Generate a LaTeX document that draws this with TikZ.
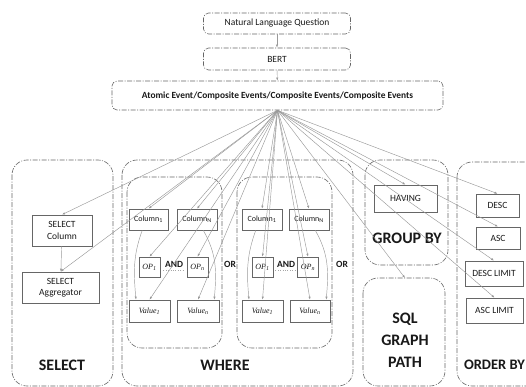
\documentclass[tikz,border=0pt]{standalone}
\usepackage{fontspec}
\setmainfont{Carlito}
\newfontfamily\tnr{Liberation Serif}
\usetikzlibrary{arrows.meta,calc}
\begin{document}
\begin{tikzpicture}[x=1pt,y=-1pt,
 panel/.style={draw=black!60, line width=0.6pt, dash pattern=on 5pt off 1.5pt on 1pt off 1.5pt, rounded corners=15pt},
 topbox/.style={draw=black!60, line width=0.6pt, dash pattern=on 5pt off 1.5pt on 1pt off 1.5pt, rounded corners=5pt, inner sep=0pt, text=black!90},
 box/.style={draw=black!60, line width=0.7pt, inner sep=0pt, align=center, text=black!90, font=\fontsize{9.5}{11.5}\selectfont},
 small/.style={box, font=\fontsize{8}{9}\selectfont},
 big/.style={font=\bfseries\fontsize{16}{21}\selectfont, text=black!90, align=center},
 conn/.style={draw=black!40, line width=0.45pt, -{Latex[length=3pt,width=2.2pt]}},
 lbl/.style={font=\bfseries\fontsize{9.5}{11}\selectfont, text=black!90},
]
\clip (0,0) rectangle (526,387);

% top chain
\node[topbox, minimum width=147pt, minimum height=21pt, font=\fontsize{9.5}{11}\selectfont] (nlq) at (277,23.5) {Natural Language Question};
\node[topbox, minimum width=147pt, minimum height=22pt, font=\fontsize{9.5}{11}\selectfont] (bert) at (277,59) {BERT};
\node[topbox, minimum width=331pt, minimum height=29pt, font=\bfseries\fontsize{9.4}{11}\selectfont] (ae) at (277.5,95.5) {Atomic Event/Composite Events/Composite Events/Composite Events};
\draw[conn] (nlq) -- (bert);
\draw[conn] (bert) -- (ae);

% panels
\draw[panel] (12,160) rectangle (113,386);
\draw[panel] (122,160) rectangle (353,386);
\draw[panel] (127,177) rectangle (222,348);
\draw[panel] (237,177) rectangle (332,348);
\draw[panel] (365,160) rectangle (448,265);
\draw[panel] (363,278) rectangle (445,386);
\draw[panel] (457,162) rectangle (590,386);

% SELECT
\node[box, minimum width=60pt, minimum height=31pt] (selcol) at (62,230.5) {SELECT\\Column};
\node[box, minimum width=77pt, minimum height=31pt] (selagg) at (60.5,287.5) {SELECT\\Aggregator};
\node[big] (lsel) at (62,365) {SELECT};

% WHERE group 1
\node[small, minimum width=39pt, minimum height=21pt] (c11) at (148.5,219.5) {Column\textsubscript{1}};
\node[small, minimum width=40pt, minimum height=21pt] (c1n) at (197,219.5) {Column\textsubscript{N}};
\node[small, minimum width=21pt, minimum height=20pt] (op11) at (149.5,267) {\tnr\itshape OP\textsubscript{1}};
\node[small, minimum width=21pt, minimum height=20pt] (op1n) at (197.5,267) {\tnr\itshape OP\textsubscript{n}};
\node[small, minimum width=41pt, minimum height=22pt] (v11) at (149.5,311) {\tnr\itshape Value\textsubscript{1}};
\node[small, minimum width=42pt, minimum height=22pt] (v1n) at (198,311) {\tnr\itshape Value\textsubscript{n}};
\node[lbl] (and1) at (174,264) {AND};
\draw[black!35, line width=0.4pt, dotted] ($(and1.south west)+(2,0)$) -- ($(and1.south east)+(-2,0)$);

% WHERE group 2
\node[small, minimum width=40pt, minimum height=21pt] (c21) at (262,219.5) {Column\textsubscript{1}};
\node[small, minimum width=40pt, minimum height=21pt] (c2n) at (309,219.5) {Column\textsubscript{N}};
\node[small, minimum width=21pt, minimum height=20pt] (op21) at (262.5,267) {\tnr\itshape OP\textsubscript{1}};
\node[small, minimum width=21pt, minimum height=20pt] (op2n) at (308,267) {\tnr\itshape OP\textsubscript{n}};
\node[small, minimum width=41pt, minimum height=22pt] (v21) at (262.5,311) {\tnr\itshape Value\textsubscript{1}};
\node[small, minimum width=40pt, minimum height=22pt] (v2n) at (310,311) {\tnr\itshape Value\textsubscript{n}};
\node[lbl] (and2) at (286,264) {AND};
\draw[black!35, line width=0.4pt, dotted] ($(and2.south west)+(2,0)$) -- ($(and2.south east)+(-2,0)$);

\node[lbl] (or1) at (230,264) {OR};
\node[lbl] (or2) at (342,264) {OR};
\node[big] (lwhere) at (225,365) {WHERE};

% GROUP BY / SQL
\node[box, minimum width=63pt, minimum height=27pt] (having) at (405.5,198.5) {HAVING};
\node[big] (lgroup) at (407,238) {GROUP BY};
\node[big, font=\bfseries\fontsize{16}{22}\selectfont] (lsql) at (405,340) {SQL\\GRAPH\\PATH};

% ORDER BY
\node[box, minimum width=43pt, minimum height=23pt] (desc) at (497.5,205.5) {DESC};
\node[box, minimum width=44pt, minimum height=22pt] (asc) at (498,238) {ASC};
\node[box, minimum width=58pt, minimum height=25pt] (desclim) at (494,273.5) {DESC LIMIT};
\node[box, minimum width=57pt, minimum height=25pt] (asclim) at (494.5,310.5) {ASC LIMIT};
\node[big, font=\bfseries\fontsize{14.5}{18}\selectfont, anchor=east, inner xsep=1pt] (lorder) at (526,365) {ORDER BY};

% fan-out connectors
\coordinate (fan) at (ae.south);
\foreach \t in {selcol,selagg,c11,c1n,op11,op1n,v11,v1n,c21,c2n,op21,op2n,v21,v2n,having,desc,asc,desclim,asclim}
  \draw[conn] (fan) -- (\t.north);
\coordinate (sqltop) at (405,278);
\draw[conn] (fan) -- (sqltop);

% inner connectors
\draw[conn] (selcol) -- (selagg);
\draw[conn] (c11.240) to[out=250,in=95] (v11.140);
\draw[conn] (c1n.300) to[out=-60,in=85] (v1n.35);
\draw[conn] (c21.240) to[out=250,in=95] (v21.140);
\draw[conn] (c2n.300) to[out=-60,in=85] (v2n.35);
\end{tikzpicture}
\end{document}
